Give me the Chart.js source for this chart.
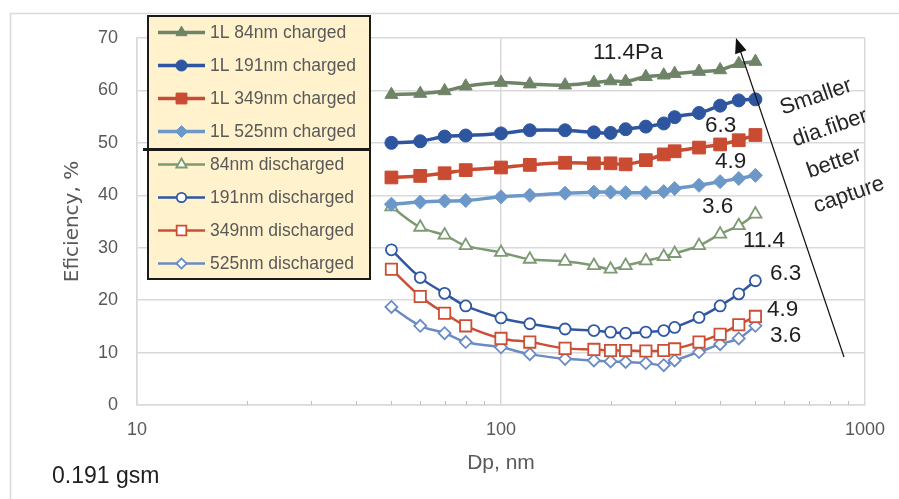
<!DOCTYPE html>
<html>
<head>
<meta charset="utf-8">
<script src="https://cdn.jsdelivr.net/npm/chart.js@4.4.1/dist/chart.umd.min.js"></script>
<style>
  html, body { margin: 0; padding: 0; background: #fff; }
  #wrap { width: 899px; height: 499px; position: relative; }
</style>
</head>
<body>
<div id="wrap"><canvas id="chart"></canvas></div>
<script>
  // particle size, nm
  const dp = [50, 60, 70, 80, 100, 120, 150, 180, 200, 220, 250, 280, 300, 350, 400, 450, 500];

  // charged media
  const charged84 = [59.2, 59.4, 59.9, 60.8, 61.5, 61.2, 61.0, 61.5, 61.8, 61.7, 62.6, 62.9, 63.2, 63.6, 63.9, 65.1, 65.5];
  const charged191 = [50.0, 50.3, 51.2, 51.4, 51.8, 52.4, 52.4, 52.0, 51.9, 52.6, 53.1, 53.7, 54.9, 55.7, 57.1, 58.1, 58.3];
  const charged349 = [43.4, 43.7, 44.2, 44.8, 45.3, 45.8, 46.2, 46.1, 46.1, 45.9, 46.7, 47.8, 48.4, 49.1, 49.7, 50.5, 51.5];
  const charged525 = [38.3, 38.7, 38.9, 39.0, 39.7, 40.0, 40.4, 40.6, 40.6, 40.5, 40.5, 40.7, 41.3, 41.9, 42.6, 43.2, 43.8];

  // discharged media
  const dis84 = [37.8, 33.9, 32.4, 30.4, 29.1, 27.8, 27.4, 26.6, 25.9, 26.6, 27.5, 28.3, 28.9, 30.4, 32.6, 34.2, 36.4];
  const dis191 = [29.6, 24.3, 21.3, 18.9, 16.6, 15.5, 14.5, 14.2, 13.9, 13.7, 13.9, 14.2, 14.8, 16.7, 18.9, 21.2, 23.7];
  const dis349 = [25.9, 20.7, 17.5, 15.1, 12.7, 12.0, 10.8, 10.6, 10.4, 10.4, 10.3, 10.4, 10.7, 12.0, 13.5, 15.3, 16.9];
  const dis525 = [18.7, 15.1, 13.7, 12.0, 11.0, 9.7, 8.8, 8.5, 8.3, 8.2, 8.0, 7.6, 8.5, 10.1, 11.6, 12.7, 15.1];

  const xTickLabels = [10, 100, 1000];
  const minorTicks = [20, 30, 40, 50, 60, 70, 80, 90, 200, 300, 400, 500, 600, 700, 800, 900];

  // pressure drop labels next to the curves
  const notes = [
    { text: '11.4Pa', x: 593, y: 59 },
    { text: '6.3', x: 705, y: 132 },
    { text: '4.9', x: 715, y: 168 },
    { text: '3.6', x: 702, y: 213 },
    { text: '11.4', x: 743, y: 247 },
    { text: '6.3', x: 770, y: 280 },
    { text: '4.9', x: 767, y: 316 },
    { text: '3.6', x: 770, y: 342 }
  ];
  const sideText = [
    { text: 'Smaller', x: 816, y: 97 },
    { text: 'dia.fiber', x: 830, y: 128 },
    { text: 'better', x: 834, y: 163 },
    { text: 'capture', x: 849, y: 195 }
  ];

  const pts = arr => arr.map((v, i) => ({ x: dp[i], y: v }));

  function charged(label, data, color, style, r) {
    return {
      label, data: pts(data), borderColor: color, backgroundColor: color,
      borderWidth: 3.5, tension: 0.35, pointStyle: style, pointRadius: r,
      pointBackgroundColor: color, pointBorderColor: color, pointBorderWidth: 1
    };
  }
  function discharged(label, data, color, style, r) {
    return {
      label, data: pts(data), borderColor: color, backgroundColor: '#fff',
      borderWidth: 2.5, tension: 0.35, pointStyle: style, pointRadius: r,
      pointBackgroundColor: '#fff', pointBorderColor: color, pointBorderWidth: 1.8
    };
  }

  const datasets = [
    charged('1L 84nm charged', charged84, '#6F8467', 'triangle', 7.5),
    charged('1L 191nm charged', charged191, '#2E56A0', 'circle', 6.5),
    charged('1L 349nm charged', charged349, '#C84B32', 'rect', 9),
    charged('1L 525nm charged', charged525, '#6C98C9', 'rectRot', 7),
    discharged('84nm discharged', dis84, '#7D9A72', 'triangle', 7),
    discharged('191nm discharged', dis191, '#2F57A2', 'circle', 5.5),
    discharged('349nm discharged', dis349, '#CB4F35', 'rect', 8),
    discharged('525nm discharged', dis525, '#6A8BC4', 'rectRot', 6)
  ];

  // light frame around the whole chart
  const framePlugin = {
    id: 'frame',
    beforeDraw(chart) {
      const ctx = chart.ctx;
      ctx.save();
      ctx.strokeStyle = '#d9d9d9';
      ctx.lineWidth = 1.5;
      ctx.strokeRect(10.5, 13.5, 950, 600);
      ctx.restore();
    }
  };

  // minor tick marks on the log axis
  const minorTickPlugin = {
    id: 'minorTicks',
    afterDraw(chart) {
      const ctx = chart.ctx;
      const xs = chart.scales.x;
      const y0 = chart.scales.y.getPixelForValue(0);
      ctx.save();
      ctx.strokeStyle = '#bfbfbf';
      ctx.lineWidth = 1;
      minorTicks.forEach(v => {
        const x = Math.round(xs.getPixelForValue(v)) + 0.5;
        ctx.beginPath();
        ctx.moveTo(x, y0);
        ctx.lineTo(x, y0 - 4);
        ctx.stroke();
      });
      ctx.restore();
    }
  };

  // boxed legend sitting inside the plot
  const legendBoxPlugin = {
    id: 'legendBox',
    afterDraw(chart) {
      const ctx = chart.ctx;
      const left = 148, top = 16, w = 222, h = 263;
      ctx.save();
      ctx.fillStyle = '#FFF2CC';
      ctx.fillRect(left, top, w, h);
      ctx.strokeStyle = '#1a1a1a';
      ctx.lineWidth = 2;
      ctx.strokeRect(left, top, w, h);
      ctx.lineWidth = 3;
      ctx.beginPath();
      ctx.moveTo(143, 149.5);
      ctx.lineTo(371, 149.5);
      ctx.stroke();

      ctx.font = '17.5px "Liberation Sans", Arial, sans-serif';
      ctx.textBaseline = 'middle';
      ctx.textAlign = 'left';
      chart.data.datasets.forEach((ds, i) => {
        const y = 32.5 + i * 33;
        ctx.strokeStyle = ds.borderColor;
        ctx.lineWidth = ds.borderWidth;
        ctx.beginPath();
        ctx.moveTo(158, y);
        ctx.lineTo(205, y);
        ctx.stroke();
        ctx.fillStyle = ds.pointBackgroundColor;
        ctx.strokeStyle = ds.pointBorderColor;
        ctx.lineWidth = ds.pointBorderWidth;
        Chart.helpers.drawPoint(ctx, {
          pointStyle: ds.pointStyle, rotation: 0,
          radius: ds.pointRadius * 0.85, borderWidth: ds.pointBorderWidth
        }, 181.5, y);
        ctx.fillStyle = '#595959';
        ctx.fillText(ds.label, 210, y + 1);
      });
      ctx.restore();
    }
  };

  // text notes, arrow and the sample label
  const notesPlugin = {
    id: 'notes',
    afterDraw(chart) {
      const ctx = chart.ctx;
      ctx.save();
      ctx.fillStyle = '#1f1f1f';
      ctx.font = '22.5px "Liberation Sans", Arial, sans-serif';
      ctx.textAlign = 'left';
      ctx.textBaseline = 'alphabetic';
      notes.forEach(n => ctx.fillText(n.text, n.x, n.y));

      ctx.font = '23px "Liberation Sans", Arial, sans-serif';
      ctx.fillText('0.191 gsm', 52, 483);

      // arrow
      const x1 = 844, y1 = 357, x2 = 736, y2 = 38;
      const ang = Math.atan2(y2 - y1, x2 - x1);
      ctx.strokeStyle = '#111';
      ctx.lineWidth = 1.2;
      ctx.beginPath();
      ctx.moveTo(x1, y1);
      ctx.lineTo(x2 - Math.cos(ang) * 10, y2 - Math.sin(ang) * 10);
      ctx.stroke();
      ctx.fillStyle = '#111';
      ctx.beginPath();
      ctx.moveTo(x2, y2);
      ctx.lineTo(x2 - Math.cos(ang) * 15 + Math.sin(ang) * 6, y2 - Math.sin(ang) * 15 - Math.cos(ang) * 6);
      ctx.lineTo(x2 - Math.cos(ang) * 15 - Math.sin(ang) * 6, y2 - Math.sin(ang) * 15 + Math.cos(ang) * 6);
      ctx.closePath();
      ctx.fill();

      // rotated side note
      ctx.fillStyle = '#262626';
      ctx.font = '22px "Liberation Sans", Arial, sans-serif';
      ctx.textAlign = 'center';
      ctx.textBaseline = 'middle';
      sideText.forEach(t => {
        ctx.save();
        ctx.translate(t.x, t.y);
        ctx.rotate(-19 * Math.PI / 180);
        ctx.fillText(t.text, 0, 0);
        ctx.restore();
      });
      ctx.restore();
    }
  };

  new Chart(document.getElementById('chart'), {
    type: 'line',
    data: { datasets },
    options: {
      responsive: true,
      maintainAspectRatio: false,
      animation: false,
      devicePixelRatio: 1,
      layout: { padding: { top: 38, right: 30, left: 0, bottom: 0 } },
      plugins: { legend: { display: false }, tooltip: { enabled: false } },
      scales: {
        x: {
          type: 'logarithmic',
          min: 10, max: 1000,
          afterFit: s => { s.height = 94; },
          border: { color: '#d9d9d9', width: 1.5 },
          grid: {
            drawTicks: false,
            lineWidth: 1.5,
            color: c => (c.tick && xTickLabels.includes(c.tick.value)) ? '#d9d9d9' : 'rgba(0,0,0,0)'
          },
          ticks: {
            autoSkip: false, maxRotation: 0, padding: 14,
            color: '#595959',
            font: { family: '"Liberation Sans", Arial, sans-serif', size: 18 },
            callback: v => xTickLabels.includes(v) ? String(v) : ''
          },
          title: {
            display: true, text: 'Dp, nm', color: '#595959',
            font: { family: '"Liberation Sans", Arial, sans-serif', size: 21 },
            padding: { top: 0, bottom: 23 }
          }
        },
        y: {
          min: 0, max: 70,
          afterFit: s => { s.width = 137; },
          border: { color: '#d9d9d9', width: 1.5 },
          grid: { drawTicks: false, color: '#d9d9d9', lineWidth: 1.5 },
          ticks: {
            stepSize: 10, padding: 19, color: '#595959',
            font: { family: '"Liberation Sans", Arial, sans-serif', size: 18 }
          },
          title: {
            display: true, text: 'Eficiency, %', color: '#595959',
            font: { family: '"DejaVu Sans", sans-serif', size: 20 },
            padding: { top: 61, bottom: 0 }
          }
        }
      }
    },
    plugins: [framePlugin, minorTickPlugin, legendBoxPlugin, notesPlugin]
  });
</script>
</body>
</html>
